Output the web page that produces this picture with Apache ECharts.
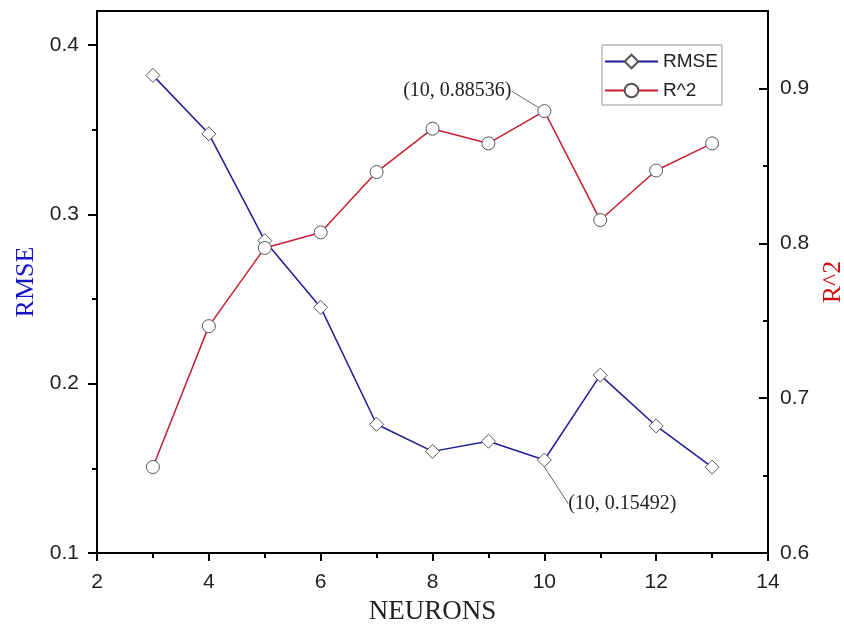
<!DOCTYPE html>
<html>
<head>
<meta charset="utf-8">
<script src="https://cdn.jsdelivr.net/npm/echarts@6/dist/echarts.min.js"></script>
<style>
  html, body { margin: 0; padding: 0; background: #fff; }
  #chart { width: 844px; height: 627px; }
</style>
</head>
<body>
<div id="chart"></div>
<script>
const neurons = [3, 4, 5, 6, 7, 8, 9, 10, 11, 12, 13]
const rmse = [0.382, 0.3475, 0.2844, 0.245, 0.176, 0.160, 0.166, 0.15492, 0.205, 0.175, 0.1507]
const r2 = [0.6555, 0.7465, 0.797, 0.807, 0.846, 0.874, 0.8645, 0.88536, 0.815, 0.847, 0.8645]
const rmseTicks = [0.1, 0.2, 0.3, 0.4]
const rmseMinor = [0.15, 0.25, 0.35]
const r2Ticks = [0.6, 0.7, 0.8, 0.9]
const r2Minor = [0.65, 0.75, 0.85]

const markAt = 10 // 标注的点
const serif = "'Liberation Serif', 'Times New Roman', serif"
const sans = "'Liberation Sans', Arial, sans-serif"

const toData = (ys, text, pos) => neurons.map((x, i) => {
  const item = { value: [x, ys[i]] }
  if (x === markAt) {
    item.label = {
      show: true,
      position: pos,
      formatter: text,
      fontFamily: serif,
      fontSize: 20,
      color: '#222'
    }
    item.labelLine = { show: true, lineStyle: { color: '#666', width: 1 } }
  }
  return item
})

const chart = echarts.init(document.getElementById('chart'))

const yBase = {
  type: 'value',
  axisLine: { show: true, lineStyle: { color: '#000', width: 2 } },
  splitLine: { show: false },
  axisLabel: { fontFamily: sans, fontSize: 21, color: '#222' }
}

chart.setOption({
  animation: false,
  grid: {
    left: 97, right: 76, top: 11, bottom: 74,
    outerBoundsMode: 'none',
    containLabel: false,
    show: true, borderColor: '#000', borderWidth: 2, backgroundColor: 'transparent'
  },
  legend: {
    orient: 'vertical',
    left: 602,
    top: 45,
    padding: [7, 4, 5, 2],
    borderColor: '#999',
    borderWidth: 1,
    itemWidth: 53,
    itemHeight: 17,
    itemGap: 10,
    textStyle: { fontFamily: sans, fontSize: 19, color: '#222' },
    data: ['RMSE', 'R^2']
  },
  xAxis: {
    type: 'value',
    min: 2, max: 14, interval: 2,
    name: 'NEURONS',
    nameLocation: 'middle',
    nameGap: 45,
    nameTextStyle: { fontFamily: serif, fontSize: 27, color: '#222' },
    axisLine: { lineStyle: { color: '#000', width: 2 } },
    axisTick: { length: 8, lineStyle: { width: 2 } },
    minorTick: { show: true, splitNumber: 2, length: 5, lineStyle: { color: '#000', width: 2 } },
    splitLine: { show: false },
    axisLabel: { fontFamily: sans, fontSize: 21, color: '#222', margin: 19 }
  },
  yAxis: [
    {
      ...yBase,
      position: 'left',
      min: 0.1, max: 0.42,
      name: 'RMSE',
      nameLocation: 'middle',
      nameRotate: 90,
      nameGap: 56,
      nameTextStyle: { fontFamily: serif, fontSize: 26, color: '#1515c8' },
      axisTick: { show: true, length: 9, customValues: rmseTicks, lineStyle: { color: '#000', width: 2 } },
      axisLabel: { ...yBase.axisLabel, customValues: rmseTicks, margin: 18 }
    },
    {
      ...yBase,
      position: 'right',
      min: 0.6, max: 0.95,
      name: 'R^2',
      nameLocation: 'middle',
      nameRotate: 90,
      nameGap: 52,
      nameTextStyle: { fontFamily: serif, fontSize: 26, color: '#d01010' },
      axisTick: { show: true, inside: true, length: 9, customValues: r2Ticks, lineStyle: { color: '#000', width: 2 } },
      axisLabel: { ...yBase.axisLabel, customValues: r2Ticks, margin: 12 }
    },
    {
      // 左轴小刻度
      type: 'value', position: 'left', min: 0.1, max: 0.42,
      axisLine: { show: false }, splitLine: { show: false }, axisLabel: { show: false },
      axisTick: { show: true, length: 5, customValues: rmseMinor, lineStyle: { color: '#000', width: 2 } }
    },
    {
      // 右轴小刻度
      type: 'value', position: 'right', min: 0.6, max: 0.95,
      axisLine: { show: false }, splitLine: { show: false }, axisLabel: { show: false },
      axisTick: { show: true, inside: true, length: 5, customValues: r2Minor, lineStyle: { color: '#000', width: 2 } }
    }
  ],
  series: [
    {
      name: 'RMSE',
      type: 'line',
      yAxisIndex: 0,
      data: toData(rmse, '(10, 0.15492)', 'bottom'),
      symbol: 'diamond',
      symbolSize: 14,
      lineStyle: { color: '#1c1c96', width: 1.5 },
      itemStyle: { color: '#fff', borderColor: '#555', borderWidth: 1 },
      labelLayout: (p) => (p.dataIndex === neurons.indexOf(markAt) ? { dx: 78, dy: 21 } : {})
    },
    {
      name: 'R^2',
      type: 'line',
      yAxisIndex: 1,
      data: toData(r2, '(10, 0.88536)', 'top'),
      symbol: 'circle',
      symbolSize: 13,
      lineStyle: { color: '#c41e32', width: 1.5 },
      itemStyle: { color: '#fff', borderColor: '#555', borderWidth: 1 },
      labelLayout: (p) => (p.dataIndex === neurons.indexOf(markAt) ? { dx: -87, dy: 2 } : {})
    }
  ]
})

window.addEventListener('resize', () => {
  chart.resize()
})
</script>
</body>
</html>
